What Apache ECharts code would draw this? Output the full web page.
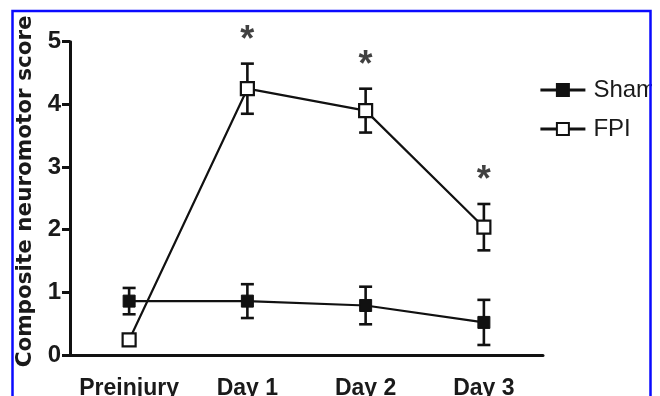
<!DOCTYPE html>
<html>
<head>
<meta charset="utf-8">
<script src="https://cdn.jsdelivr.net/npm/echarts@6/dist/echarts.min.js"></script>
<style>
  html, body { margin: 0; padding: 0; background: #fff; }
  #chart { width: 660px; height: 396px; }
</style>
</head>
<body>
<div id="chart"></div>
<script>
// Time points
var categories = ['Preinjury', 'Day 1', 'Day 2', 'Day 3'];
// Group means and SEM
var shamMean = [0.86, 0.86, 0.79, 0.52];
var shamSem  = [0.21, 0.27, 0.30, 0.36];
var fpiMean  = [0.24, 4.25, 3.90, 2.04];
var fpiSem   = [0.00, 0.40, 0.35, 0.37];
// Significance marks above the FPI error bars
var fpiSig   = ['', '*', '*', '*'];
// Y axis ticks
var yTicks = [0, 1, 2, 3, 4, 5];

function errData(mean, sem) {
  return mean.map(function (m, i) { return [i, m - sem[i], m + sem[i]]; });
}

function renderErr(params, api) {
  var x = api.value(0);
  var lo = api.coord([x, api.value(1)]);
  var hi = api.coord([x, api.value(2)]);
  if (Math.abs(lo[1] - hi[1]) < 0.5) return null;
  var hw = 6.5;
  var style = { stroke: '#111', lineWidth: 2.6 };
  return {
    type: 'group',
    children: [
      { type: 'line', shape: { x1: lo[0], y1: lo[1], x2: hi[0], y2: hi[1] }, style: style },
      { type: 'line', shape: { x1: lo[0] - hw, y1: lo[1], x2: lo[0] + hw, y2: lo[1] }, style: style },
      { type: 'line', shape: { x1: hi[0] - hw, y1: hi[1], x2: hi[0] + hw, y2: hi[1] }, style: style }
    ]
  };
}

var sigData = fpiMean.map(function (m, i) {
  return { value: [i, m + fpiSem[i]], sig: fpiSig[i] };
}).filter(function (d) { return d.sig; });

var chart = echarts.init(document.getElementById('chart'), null, { renderer: 'canvas' });
chart.setOption({
  animation: false,
  backgroundColor: '#fff',
  grid: { left: 70, right: 117, top: 41.7, bottom: 41, containLabel: false, outerBoundsMode: 'none' },
  legend: {
    orient: 'vertical',
    left: 534,
    top: 73,
    itemWidth: 45,
    itemHeight: 15,
    itemGap: 15,
    data: ['Sham', 'FPI'],
    lineStyle: { width: 2.8 },
    textStyle: { fontFamily: 'Liberation Sans', fontSize: 24, color: '#1a1a1a', padding: [0, 0, 0, 3] }
  },
  xAxis: {
    type: 'category',
    data: categories,
    boundaryGap: true,
    axisLine: { lineStyle: { color: '#111', width: 3 } },
    axisTick: { alignWithLabel: true, length: 10, lineStyle: { color: '#111', width: 3 } },
    axisLabel: { interval: 0, margin: 22, fontFamily: 'Liberation Sans', fontWeight: 'bold', fontSize: 23, color: '#1a1a1a' }
  },
  yAxis: {
    type: 'value',
    min: 0,
    max: 5,
    interval: 1,
    name: 'Composite neuromotor score',
    nameLocation: 'middle',
    nameGap: 31,
    nameTextStyle: { fontFamily: 'DejaVu Sans', fontWeight: 'bold', fontSize: 21.5, color: '#1a1a1a', padding: [0, 0, 0, 14] },
    splitLine: { show: false },
    axisLine: { show: true, lineStyle: { color: '#111', width: 3 } },
    axisTick: { show: true, length: 8, lineStyle: { color: '#111', width: 3 } },
    axisLabel: {
      margin: 9, fontFamily: 'Liberation Sans', fontWeight: 'bold', fontSize: 24, color: '#1a1a1a',
      formatter: function (v) { return yTicks.indexOf(v) >= 0 ? String(v) : ''; }
    }
  },
  series: [
    {
      type: 'custom', name: 'shamErr', data: errData(shamMean, shamSem),
      renderItem: renderErr, z: 1, silent: true
    },
    {
      type: 'custom', name: 'fpiErr', data: errData(fpiMean, fpiSem),
      renderItem: renderErr, z: 1, silent: true
    },
    {
      type: 'line', name: 'Sham', data: shamMean, z: 3,
      symbol: 'rect', symbolSize: 12,
      lineStyle: { color: '#111', width: 2.2 },
      itemStyle: { color: '#111', borderColor: '#111', borderWidth: 1 }
    },
    {
      type: 'line', name: 'FPI', data: fpiMean, z: 4,
      symbol: 'rect', symbolSize: 13,
      lineStyle: { color: '#111', width: 2.2 },
      itemStyle: { color: '#fff', borderColor: '#111', borderWidth: 2.2 }
    },
    {
      type: 'scatter', name: 'sig', data: sigData, symbolSize: 0, z: 5, silent: true,
      label: {
        show: true, position: 'top', distance: 5,
        formatter: function (p) { return p.data.sig; },
        fontFamily: 'Liberation Sans', fontWeight: 'bold', fontSize: 36, color: '#111'
      }
    }
  ],
  graphic: [
    // page frame
    { type: 'rect', z: 100, shape: { x: 652, y: 0, width: 20, height: 396 }, style: { fill: '#fff' } },
    { type: 'rect', z: 101, shape: { x: 12.5, y: 11, width: 638, height: 400 },
      style: { fill: null, stroke: '#0a0aff', lineWidth: 2.5 } }
  ]
});
</script>
</body>
</html>
